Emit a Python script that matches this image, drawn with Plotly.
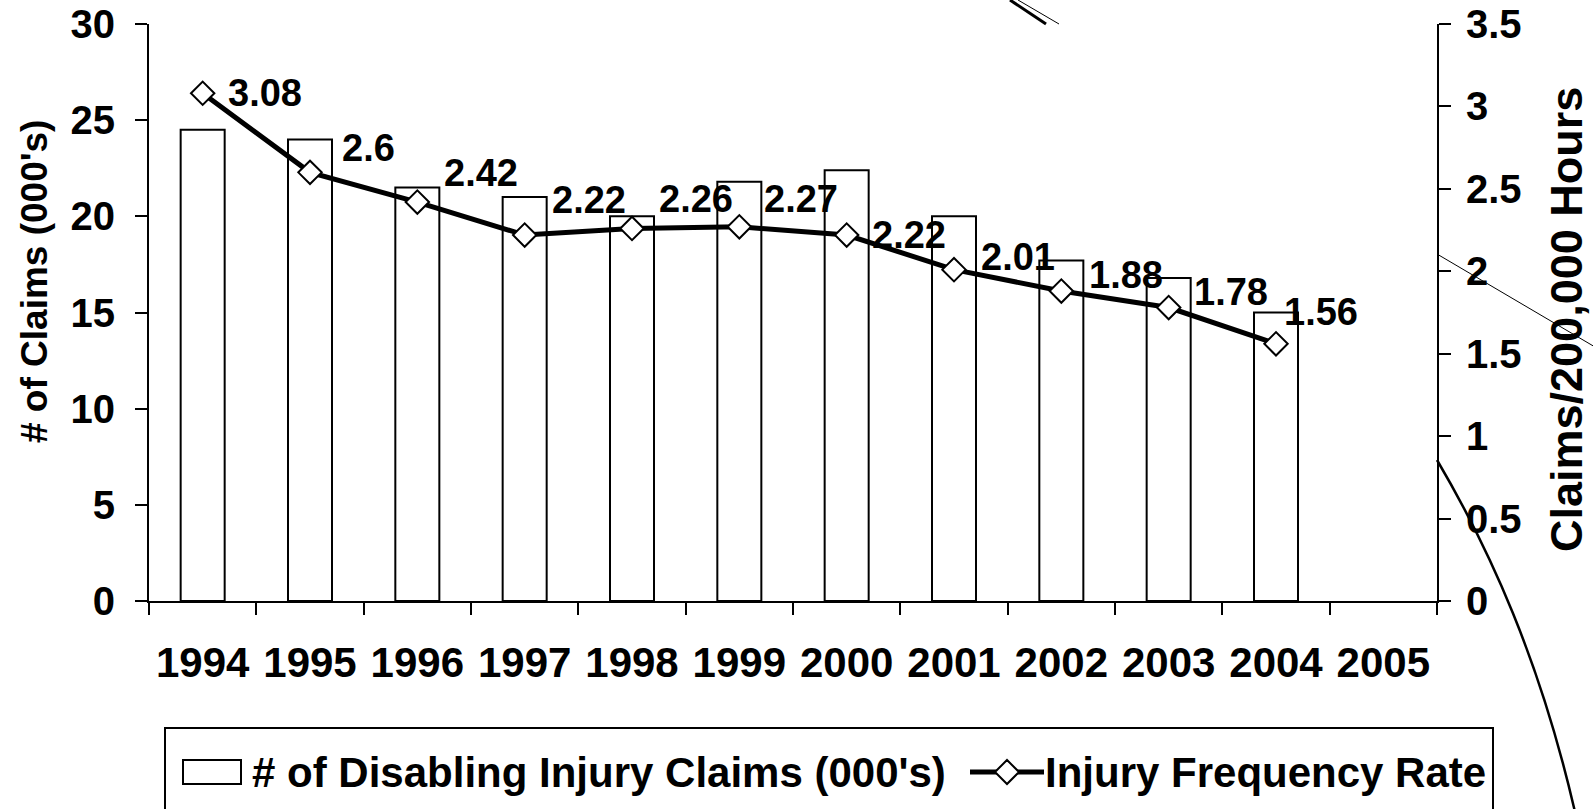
import plotly.graph_objects as go

# ---------------- data ----------------
years = ["1994", "1995", "1996", "1997", "1998", "1999", "2000", "2001", "2002", "2003", "2004", "2005"]
claims = [24.5, 24.0, 21.5, 21.0, 20.0, 21.8, 22.4, 20.0, 17.7, 16.8, 15.0]
freq_rate = [3.08, 2.60, 2.42, 2.22, 2.26, 2.27, 2.22, 2.01, 1.88, 1.78, 1.56]
rate_labels = ["3.08", "2.6", "2.42", "2.22", "2.26", "2.27", "2.22", "2.01", "1.88", "1.78", "1.56"]
bar_name = "# of Disabling Injury Claims (000's)"
line_name = "Injury Frequency Rate"
left_title = "# of Claims (000's)"
right_title = "Claims/200,000 Hours"

# label offsets (pixels, right / up) as placed in the original
label_dx = [25, 32, 27, 27, 27, 25, 25, 27, 28, 25, 8]
label_dy = [0, 24, 29, 35, 29, 28, 0, 13, 16, 16, 32]

# ---------------- layout geometry ----------------
W, H = 1593, 809
L = 149
R = W - 1437
T = 24
BOT = 601                    # pixel y of plot bottom
B = H - BOT
PW = W - L - R
PH = H - T - B

FONT = "Liberation Sans, Arial, sans-serif"

def px(x):   # pixel x -> paper
    return (x - L) / PW

def py(y):   # pixel y -> paper
    return (BOT - y) / PH

def X(x):    # pixel x -> pixel offset from plot origin
    return x - L

def Y(y):    # pixel y -> pixel offset (upwards) from plot origin
    return BOT - y

fig = go.Figure()

fig.add_trace(go.Bar(
    x=years[:len(claims)], y=claims, name=bar_name,
    marker=dict(color="white", line=dict(color="black", width=2)),
    width=0.41, showlegend=False, yaxis="y", xaxis="x",
))

fig.add_trace(go.Scatter(
    x=years[:len(freq_rate)], y=freq_rate, name=line_name, mode="lines+markers",
    line=dict(color="black", width=5),
    marker=dict(symbol="diamond", size=18, color="white", line=dict(color="black", width=2)),
    showlegend=False, yaxis="y2", xaxis="x",
))

annotations = []
for i, (v, t) in enumerate(zip(freq_rate, rate_labels)):
    annotations.append(dict(
        x=i, y=v, xref="x", yref="y2", text=t, showarrow=False,
        xanchor="left", yanchor="middle", xshift=label_dx[i] - 2, yshift=label_dy[i],
        font=dict(family=FONT, size=38, color="black", weight="bold"),
    ))

# axis titles
annotations.append(dict(x=px(34), y=py(282), xref="paper", yref="paper", text=left_title,
                        showarrow=False, textangle=-90, xanchor="center", yanchor="middle",
                        font=dict(family=FONT, size=37, color="black", weight="bold")))
annotations.append(dict(x=px(1566), y=py(320), xref="paper", yref="paper", text=right_title,
                        showarrow=False, textangle=-90, xanchor="center", yanchor="middle",
                        font=dict(family=FONT, size=45, color="black", weight="bold")))

# legend (manual, pixel geometry)
annotations.append(dict(x=px(250), y=py(772), xref="paper", yref="paper", text=bar_name,
                        showarrow=False, xanchor="left", yanchor="middle",
                        font=dict(family=FONT, size=42, color="black", weight="bold")))
annotations.append(dict(x=px(1043), y=py(772), xref="paper", yref="paper", text=line_name,
                        showarrow=False, xanchor="left", yanchor="middle",
                        font=dict(family=FONT, size=42, color="black", weight="bold")))

def pshape(**kw):
    d = dict(xref="paper", yref="paper", xsizemode="pixel", ysizemode="pixel",
             xanchor=0, yanchor=0, layer="above")
    d.update(kw)
    return d

shapes = [
    # legend box
    pshape(type="rect", x0=X(165), y0=Y(728), x1=X(1493), y1=Y(840),
           line=dict(color="black", width=2), fillcolor="rgba(0,0,0,0)"),
    # bar swatch
    pshape(type="rect", x0=X(183), y0=Y(760), x1=X(241), y1=Y(784),
           line=dict(color="black", width=2), fillcolor="white"),
    # line swatch
    pshape(type="line", x0=X(970), y0=Y(772), x1=X(1044), y1=Y(772),
           line=dict(color="black", width=5)),
    pshape(type="path",
           path=f"M {X(995)},{Y(772)} L {X(1007)},{Y(760)} L {X(1019)},{Y(772)} L {X(1007)},{Y(784)} Z",
           line=dict(color="black", width=2), fillcolor="white"),
    # stray strokes in the original image
    pshape(type="line", x0=X(1010), y0=Y(0), x1=X(1046), y1=Y(24), line=dict(color="black", width=3)),
    pshape(type="line", x0=X(1018), y0=Y(0), x1=X(1059), y1=Y(24), line=dict(color="black", width=1)),
    pshape(type="line", x0=X(1437), y0=Y(254), x1=X(1595), y1=Y(347), line=dict(color="black", width=1)),
    pshape(type="path",
           path=f"M {X(1437)},{Y(460)} C {X(1490)},{Y(550)} {X(1540)},{Y(660)} {X(1575)},{Y(812)}",
           line=dict(color="black", width=2.5)),
]

tickfont = dict(family=FONT, size=40, color="black", weight="bold")
nb = len(years)

fig.update_layout(
    width=W, height=H,
    margin=dict(l=L, r=R, t=T, b=B, pad=0, autoexpand=False),
    paper_bgcolor="white", plot_bgcolor="white",
    showlegend=False,
    bargap=0,
    xaxis=dict(
        type="category", categoryorder="array", categoryarray=years,
        range=[-0.5, nb - 0.5], tickson="boundaries", automargin=False,
        ticks="outside", ticklen=12, tickwidth=2, tickcolor="black",
        showline=True, linewidth=2, linecolor="black", showgrid=False, zeroline=False,
        tickfont=dict(family=FONT, size=42, color="black", weight="bold"),
        ticklabelstandoff=24, ticklabeloverflow="allow", fixedrange=True,
    ),
    xaxis3=dict(
        overlaying="x", anchor="y", range=[-0.5, nb - 0.5], automargin=False,
        tickmode="array", tickvals=[i - 0.5 for i in range(nb + 1)],
        ticks="inside", ticklen=12, tickwidth=2, tickcolor="black",
        showticklabels=False, showline=False, showgrid=False, zeroline=False,
    ),
    yaxis=dict(
        range=[0, 30], dtick=5, tick0=0, automargin=False,
        ticks="outside", ticklen=12, tickwidth=2, tickcolor="black",
        showline=True, linewidth=2, linecolor="black", showgrid=False, zeroline=False,
        tickfont=tickfont, ticklabelstandoff=12, ticklabeloverflow="allow",
    ),
    yaxis2=dict(
        overlaying="y", side="right", anchor="x", range=[0, 3.5], dtick=0.5, tick0=0,
        automargin=False,
        ticks="outside", ticklen=12, tickwidth=2, tickcolor="black",
        showline=True, linewidth=2, linecolor="black", showgrid=False, zeroline=False,
        tickfont=tickfont, ticklabelstandoff=7, ticklabeloverflow="allow",
    ),
    yaxis3=dict(
        overlaying="y", side="left", anchor="x", range=[0, 30], dtick=5, tick0=0,
        automargin=False,
        ticks="inside", ticklen=12, tickwidth=2, tickcolor="black",
        showticklabels=False, showline=False, showgrid=False, zeroline=False,
    ),
    yaxis4=dict(
        overlaying="y", side="right", anchor="x", range=[0, 3.5], dtick=0.5, tick0=0,
        automargin=False,
        ticks="inside", ticklen=12, tickwidth=2, tickcolor="black",
        showticklabels=False, showline=False, showgrid=False, zeroline=False,
    ),
    annotations=annotations,
    shapes=shapes,
)

fig.write_html(
    "out.html", include_plotlyjs=True,
    config={"displayModeBar": False, "staticPlot": True},
    post_script="document.body.style.margin='0';document.body.style.overflow='hidden';",
)
